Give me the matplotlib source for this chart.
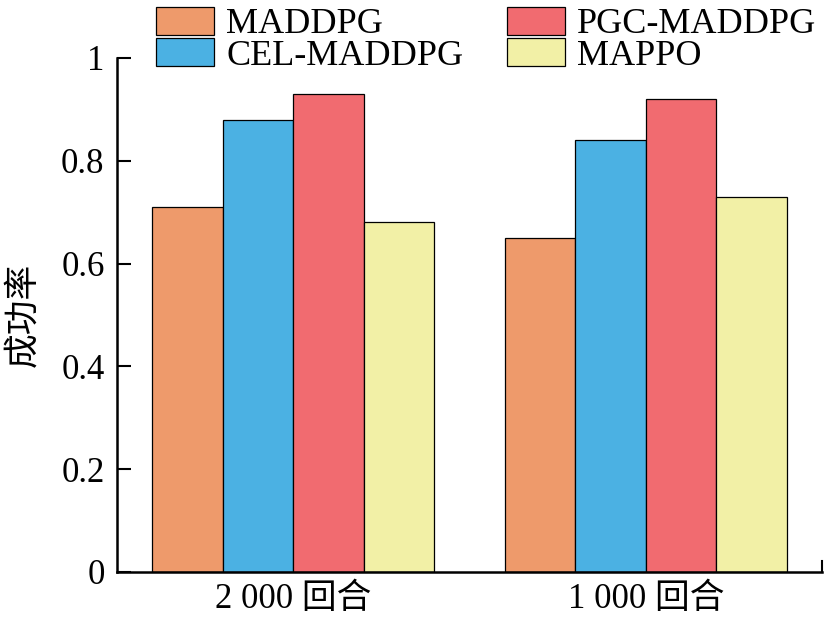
import matplotlib.pyplot as plt
import numpy as np

plt.rcParams['font.family'] = ['Liberation Serif', 'Noto Sans CJK SC']

groups = ['2 000 回合', '1 000 回合']
methods = ['MADDPG', 'CEL-MADDPG', 'PGC-MADDPG', 'MAPPO']
colors = ['#EE9A6B', '#4BB1E3', '#F16B70', '#F2F0A6']
success = {
    'MADDPG': [0.71, 0.65],
    'CEL-MADDPG': [0.88, 0.84],
    'PGC-MADDPG': [0.93, 0.92],
    'MAPPO': [0.68, 0.73],
}

fig = plt.figure(figsize=(8.33, 6.25), dpi=100)
ax = fig.add_axes([0.1405, 0.0848, 0.8463, 0.8224])

x = np.arange(len(groups))
w = 0.2
for i, m in enumerate(methods):
    ax.bar(x + (i - 1.5) * w, success[m], w, color=colors[i],
           edgecolor='black', linewidth=0.9, label=m)

ax.set_xlim(-0.5, 1.5)
ax.set_ylim(0, 1)
ax.set_yticks([0, 0.2, 0.4, 0.6, 0.8, 1])
ax.set_yticklabels(['0', '0.2', '0.4', '0.6', '0.8', '1'])
ax.set_xticks(x)
ax.set_xticklabels(groups)
ax.tick_params(axis='y', direction='in', length=10, width=1.5, labelsize=25, pad=9)
ax.tick_params(axis='x', length=0, labelsize=25, pad=8)
ax.set_ylabel('成功率', fontsize=25, labelpad=15)

# small closing tick at the right end of the x axis
ax.axvline(ax.get_xlim()[1], ymax=0.022, color='black', lw=1.5, clip_on=False)

for s in ['top', 'right']:
    ax.spines[s].set_visible(False)
for s in ['left', 'bottom']:
    ax.spines[s].set_linewidth(1.8)

fig.legend(loc='upper left', bbox_to_anchor=(0.170, 1.012), ncol=2,
           frameon=False, fontsize=26, handlelength=1.6, handleheight=0.8,
           columnspacing=1.2, handletextpad=0.35, labelspacing=-0.08,
           borderaxespad=0)

fig.savefig('out.png', dpi=100)
